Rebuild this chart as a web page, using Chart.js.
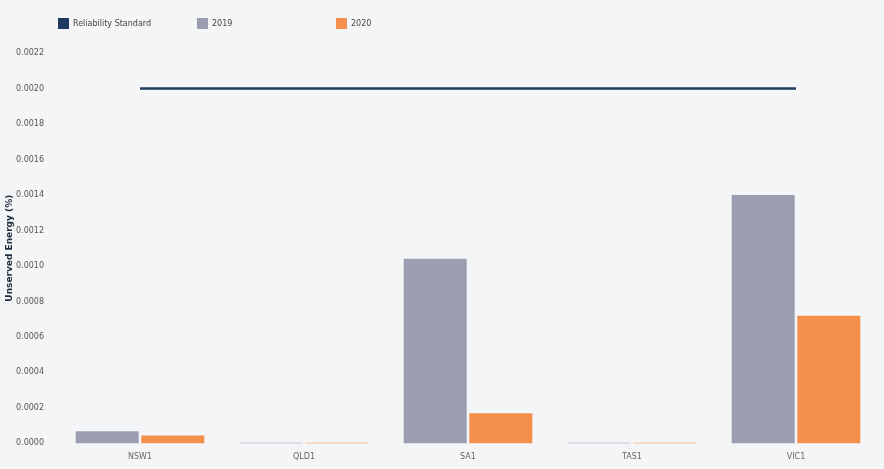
<!DOCTYPE html>
<html>
<head>
<meta charset="utf-8">
<script src="https://cdn.jsdelivr.net/npm/chart.js@4"></script>
<style>
	html, body { margin: 0; padding: 0; background: #f4f5f7; }
	#wrap { position: relative; width: 884px; height: 469px; }
	#legend { position: absolute; top: 18px; left: 58px; font: 8px 'DejaVu Sans', sans-serif; color: #444; }
	#legend span { position: absolute; white-space: nowrap; line-height: 11px; }
	#legend i { display: inline-block; width: 11px; height: 11px; vertical-align: top; margin-right: 4px; }
</style>
</head>
<body>
<div id="wrap">
	<canvas id="chart" width="884" height="469"></canvas>
	<div id="legend"></div>
</div>
<script>
const regions = ['NSW1', 'QLD1', 'SA1', 'TAS1', 'VIC1']
const standard = [0.002, 0.002, 0.002, 0.002, 0.002]
const values2019 = [0.000068, 0.000004, 0.00104, 0.000004, 0.0014]
const values2020 = [0.000045, 0.000004, 0.00017, 0.000004, 0.00072]

const NAVY = '#1f3a5f'
const GREY = '#9b9eb0'
const ORANGE = '#f58f4c'

// html legend, items sit at fixed spacing like the original
const legendItems = [
	['Reliability Standard', NAVY, 0],
	['2019', GREY, 139],
	['2020', ORANGE, 278],
]
const legendBox = document.getElementById('legend')
for (let [text, color, left] of legendItems) {
	let item = document.createElement('span')
	item.style.left = left + 'px'
	item.innerHTML = `<i style="background:${color}"></i>${text}`
	legendBox.appendChild(item)
}

const tickFont = { family: 'DejaVu Sans', size: 8 }

const options = {
	data: {
		labels: regions,
		datasets: [
			{
				type: 'line',
				label: 'Reliability Standard',
				data: standard,
				borderColor: NAVY,
				borderWidth: 2.5,
				pointRadius: 0,
				order: 0,
			},
			{
				type: 'bar',
				label: '2019',
				data: values2019,
				backgroundColor: GREY,
				categoryPercentage: 0.8,
				barPercentage: 0.96,
				order: 1,
			},
			{
				type: 'bar',
				label: '2020',
				data: values2020,
				backgroundColor: ORANGE,
				categoryPercentage: 0.8,
				barPercentage: 0.96,
				order: 1,
			},
		],
	},
	options: {
		responsive: false,
		animation: false,
		layout: { padding: { top: 53, right: 6, bottom: 6, left: 4 } },
		plugins: { legend: { display: false }, tooltip: { enabled: false } },
		scales: {
			x: {
				grid: { display: false },
				border: { display: false },
				ticks: { color: '#666', font: tickFont, padding: 1 },
			},
			y: {
				min: 0,
				max: 0.0022,
				grid: { display: false },
				border: { display: false },
				ticks: {
					stepSize: 0.0002,
					color: '#555',
					font: tickFont,
					padding: 6,
					callback: value => value.toFixed(4),
				},
				title: {
					display: true,
					text: 'Unserved Energy (%)',
					color: '#1f2d3d',
					font: { family: 'DejaVu Sans', size: 9, weight: 'bold' },
					padding: 0,
				},
				afterFit: scale => { scale.width = 54 },
			},
		},
	},
}

const ctx = document.getElementById('chart')
const chart = new Chart(ctx, options)
</script>
</body>
</html>
